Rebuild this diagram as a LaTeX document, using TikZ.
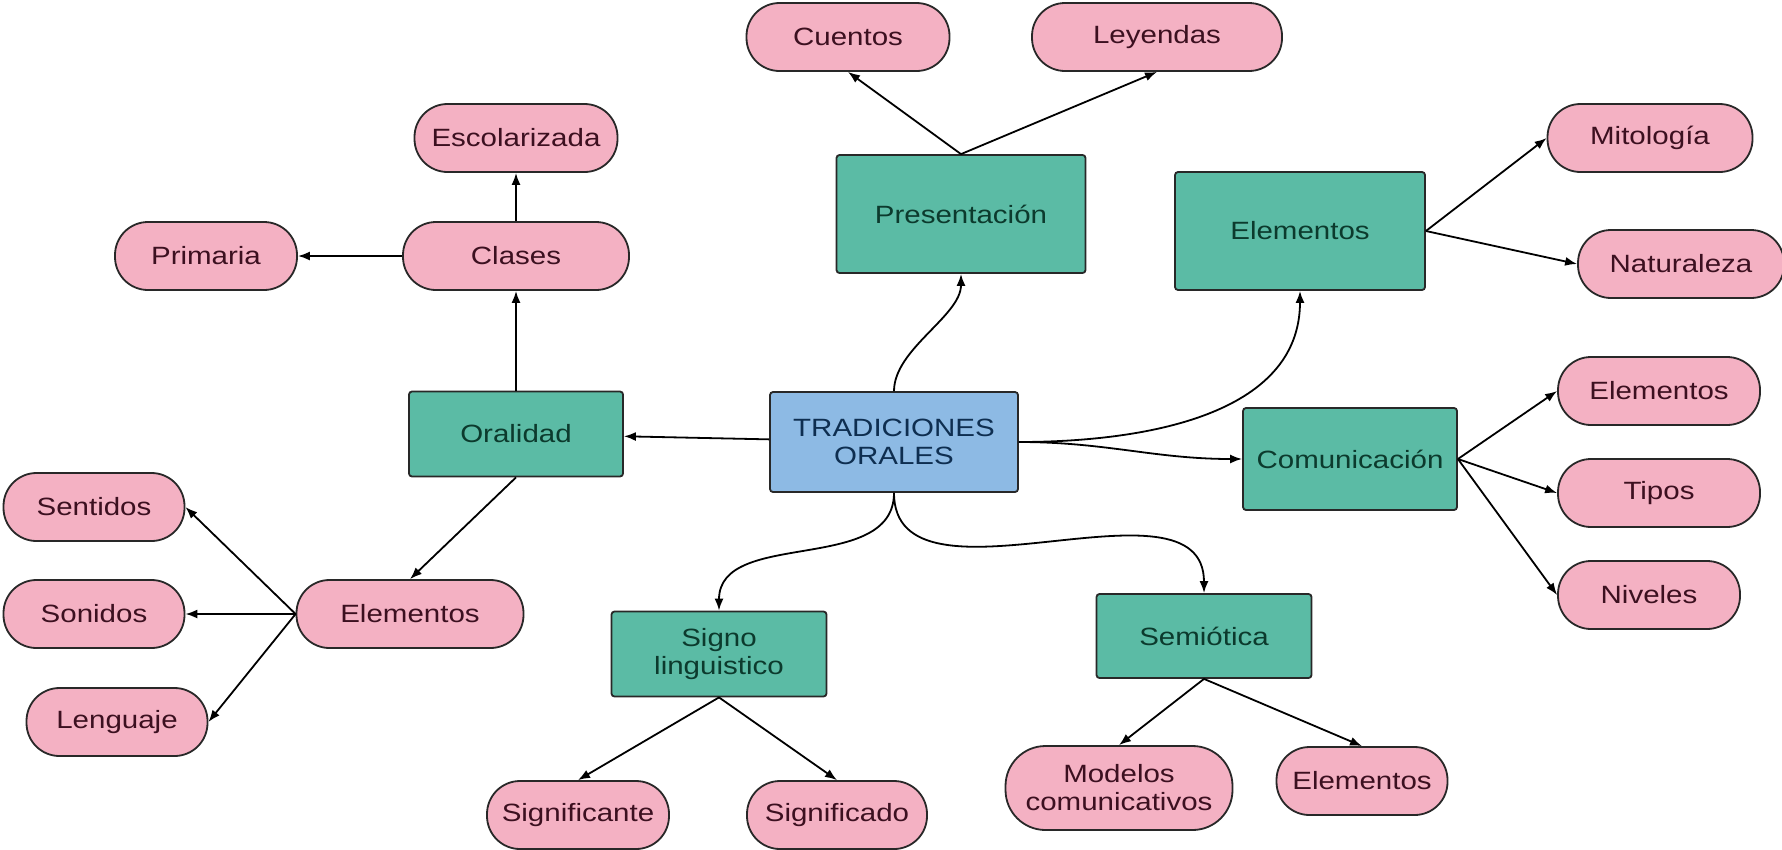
\documentclass[tikz,border=0pt]{standalone}
\usepackage{fontspec}
\setmainfont{Liberation Sans}[FakeStretch=1.18]
\usepackage{tikz}
\usetikzlibrary{%
  arrows,%
  arrows.meta%
}
\definecolor{boxteal}{RGB}{91,187,165}
\definecolor{rootblue}{RGB}{141,186,228}
\definecolor{pillpink}{RGB}{244,177,195}
\definecolor{bordergray}{RGB}{40,40,40}
\definecolor{boxtext}{RGB}{12,58,45}
\definecolor{roottext}{RGB}{14,46,80}
\definecolor{pilltext}{RGB}{60,16,32}

\begin{document}
\begin{tikzpicture}[x=1pt,y=-1pt,line width=1.8pt,>={Latex[length=12pt,width=9pt]},
  box/.style={draw=bordergray,fill=boxteal,text=boxtext,rounded corners=3pt,
    inner sep=0pt,align=center,font=\fontsize{25}{28}\selectfont},
  root/.style={box,fill=rootblue,text=roottext},
  pill/.style={draw=bordergray,fill=pillpink,text=pilltext,rounded corners=33pt,
    inner sep=0pt,minimum height=68pt,align=center,font=\fontsize{25}{28}\selectfont}]
\useasboundingbox (0,0) rectangle (1782,849);

% centre
\node[root,minimum width=248pt,minimum height=100pt] (trad) at (894,442) {TRADICIONES\\ORALES};

% arriba
\node[box,minimum width=249pt,minimum height=118pt] (pres) at (961,214) {Presentación};
\node[pill,minimum width=203pt] (cuentos) at (848,37) {Cuentos};
\node[pill,minimum width=250pt] (leyendas) at (1157,37) {Leyendas};

\node[box,minimum width=250pt,minimum height=118pt] (elem) at (1300,231) {Elementos};
\node[pill,minimum width=205pt] (mito) at (1650,138) {Mitología};
\node[pill,minimum width=206pt] (natur) at (1681,264) {Naturaleza};

% derecha
\node[box,minimum width=214pt,minimum height=102pt] (comu) at (1350,459) {Comunicación};
\node[pill,minimum width=202pt] (comelem) at (1659,391) {Elementos};
\node[pill,minimum width=202pt] (tipos) at (1659,493) {Tipos};
\node[pill,minimum width=182pt] (niveles) at (1649,595) {Niveles};

% izquierda
\node[box,minimum width=214pt,minimum height=85pt] (oral) at (516,434) {Oralidad};
\node[pill,minimum width=226pt] (clases) at (516,256) {Clases};
\node[pill,minimum width=203pt] (escol) at (516,138) {Escolarizada};
\node[pill,minimum width=182pt] (prim) at (206,256) {Primaria};

\node[pill,minimum width=227pt] (oralelem) at (410,614) {Elementos};
\node[pill,minimum width=181pt] (sentidos) at (94,507) {Sentidos};
\node[pill,minimum width=181pt] (sonidos) at (94,614) {Sonidos};
\node[pill,minimum width=181pt] (lenguaje) at (117,722) {Lenguaje};

% abajo
\node[box,minimum width=215pt,minimum height=85pt] (signo) at (719,654) {Signo\\linguistico};
\node[pill,minimum width=182pt] (sgnte) at (578,815) {Significante};
\node[pill,minimum width=180pt] (sgdo) at (837,815) {Significado};

\node[box,minimum width=215pt,minimum height=84pt] (semio) at (1204,636) {Semiótica};
\node[pill,minimum width=227pt,minimum height=84pt,rounded corners=40pt] (modelos) at (1119,788) {Modelos\\comunicativos};
\node[pill,minimum width=171pt] (semelem) at (1362,781) {Elementos};

\path[->] (trad) edge[out=90,in=-90,looseness=0.8] (pres)
          (trad) edge[out=0,in=-90] (elem)
          (trad) edge[out=0,in=180] (comu)
          (trad) edge (oral)
          (trad) edge[out=-90,in=90] (signo)
          (trad) edge[out=-90,in=90] (semio)
          (pres.north) edge (cuentos.south)
          (pres.north) edge (leyendas.south)
          (elem.east) edge (mito.west)
          (elem.east) edge (natur.west)
          (comu.east) edge (comelem.west)
          (comu.east) edge (tipos.west)
          (comu.east) edge (niveles.west)
          (oral) edge (clases)
          (clases) edge (escol)
          (clases) edge (prim)
          (oral.south) edge (oralelem.north)
          (oralelem.west) edge (sentidos.east)
          (oralelem.west) edge (sonidos.east)
          (oralelem.west) edge (lenguaje.east)
          (signo.south) edge (sgnte.north)
          (signo.south) edge (sgdo.north)
          (semio.south) edge (modelos.north)
          (semio.south) edge (semelem.north)
;
\end{tikzpicture}
\end{document}
